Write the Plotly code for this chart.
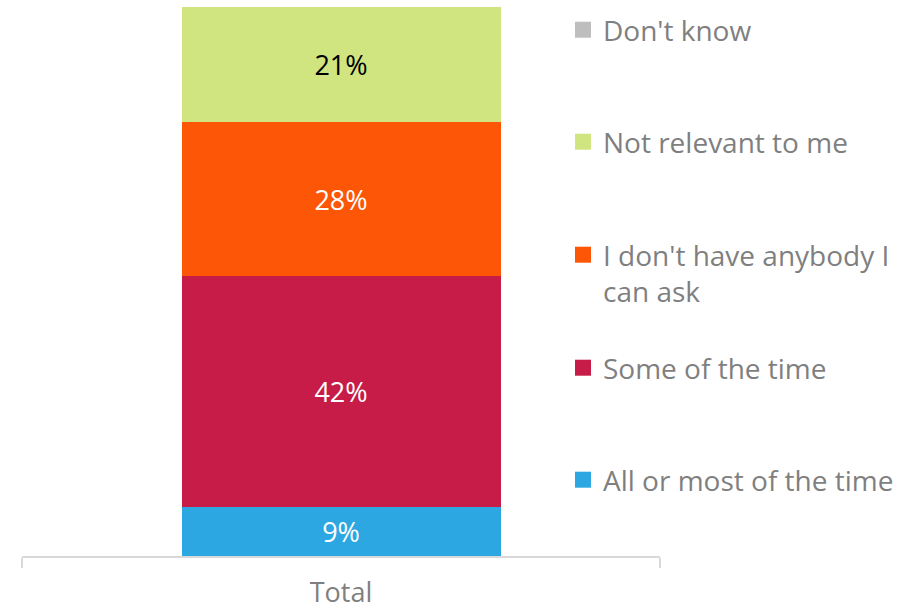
import plotly.graph_objects as go

categories = ["Total"]
series_names = ["All or most of the time", "Some of the time", "I don't have anybody I<br>can ask",
                "Not relevant to me", "Don't know"]
series_values = [[9], [42], [28], [21], [0]]
series_colors = ["#2ca7e1", "#c71c48", "#fe5607", "#d0e480", "#bebebe"]
label_colors = ["white", "white", "white", "black", "white"]

W, H = 905, 611
ml, mr, mt, mb = 22, 245, 7, 55
plot_h = H - mt - mb

# vertical anchor (px from top) of each legend entry
legend_anchor_px = [480, 368, 230, 142, 30]
FONT = "Open Sans"
FS = 27
LEG_FS = 28

fig = go.Figure()
legend_ids = ["legend", "legend2", "legend3", "legend4", "legend5"]
for i, (name, vals, col, lc) in enumerate(zip(series_names, series_values, series_colors, label_colors)):
    fig.add_trace(go.Bar(
        x=categories, y=vals, name=name,
        marker=dict(color=col, line=dict(width=0)),
        text=[f"{v}%" if v > 0 else "" for v in vals],
        textposition="inside", insidetextanchor="middle", textangle=0,
        textfont=dict(family=FONT, size=FS, color=lc),
        width=0.5, showlegend=False, legendgroup=f"g{i}", hoverinfo="skip",
    ))
    # legend entry with a larger square swatch
    fig.add_trace(go.Scatter(
        x=[None], y=[None], mode="markers", name=name,
        marker=dict(symbol="square", size=16, color=col),
        legend=legend_ids[i], legendgroup=f"g{i}", showlegend=True, hoverinfo="skip",
    ))

layout_legends = {}
for i, lid in enumerate(legend_ids):
    cy = legend_anchor_px[i]
    layout_legends[lid] = dict(
        x=(563 - ml) / (W - ml - mr), xanchor="left",
        y=(H - mb - cy) / plot_h, yanchor="top" if i == 2 else "middle",
        valign="top",
        font=dict(family=FONT, size=LEG_FS, color="#7f7f7f"),
        bgcolor="rgba(0,0,0,0)", borderwidth=0,
    )

fig.update_layout(
    width=W, height=H,
    margin=dict(l=ml, r=mr, t=mt, b=mb, autoexpand=False),
    barmode="stack",
    plot_bgcolor="white", paper_bgcolor="white",
    showlegend=True,
    xaxis=dict(
        type="category", range=[-0.5, 0.5], automargin=False,
        showline=True, linecolor="#d9d9d9", linewidth=2,
        ticks="outside", tickson="boundaries", ticklen=10, tickcolor="#d9d9d9", tickwidth=2,
        ticklabelstandoff=12,
        tickfont=dict(family=FONT, size=FS, color="#7f7f7f"),
        showgrid=False, zeroline=False,
    ),
    yaxis=dict(range=[0, 100], visible=False, automargin=False, showgrid=False, zeroline=False),
    **layout_legends,
)

fig.write_html("out.html", config={"displayModeBar": False},
               post_script="document.body.style.margin='0px';")
